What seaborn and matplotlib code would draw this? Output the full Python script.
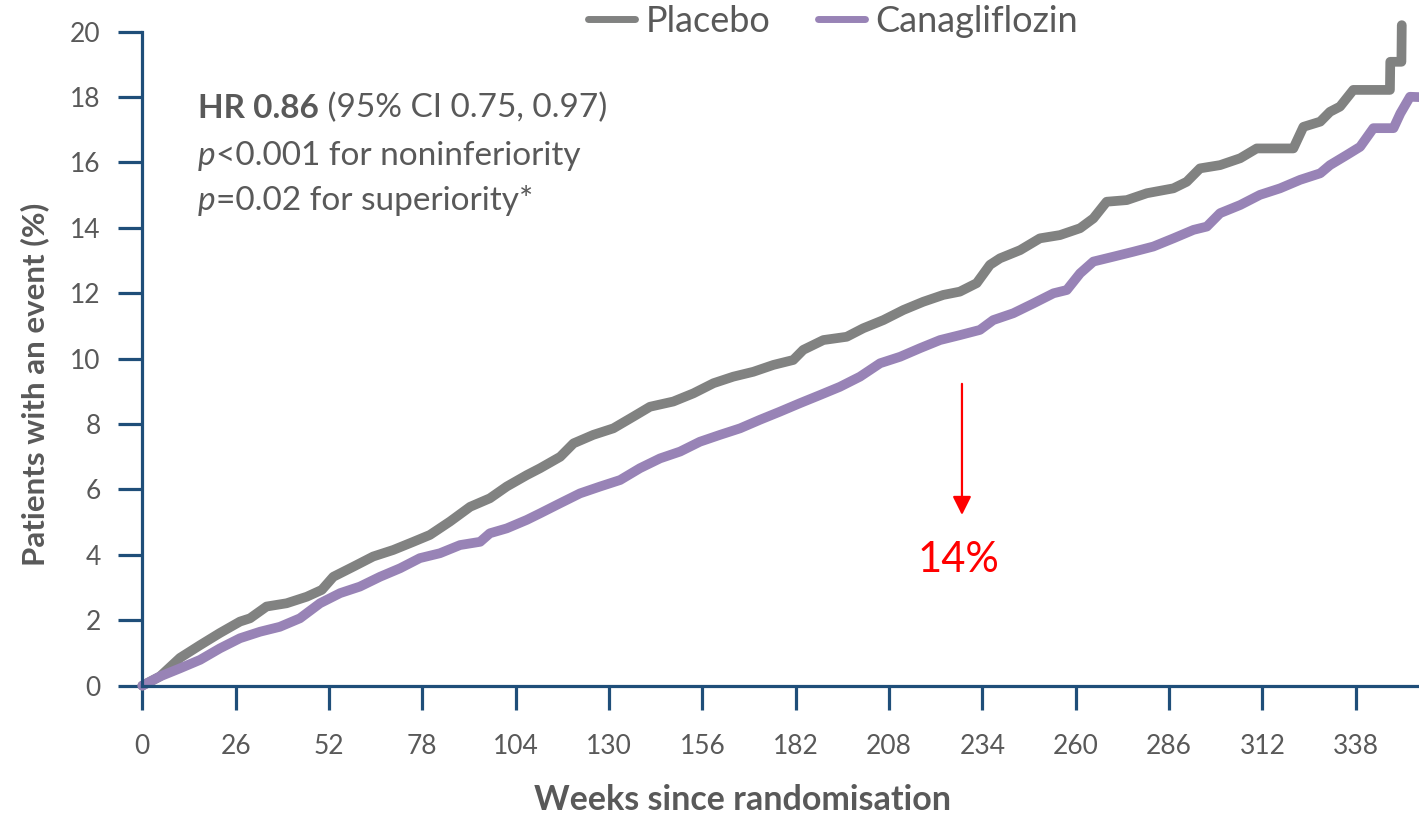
import matplotlib
matplotlib.use("Agg")
import matplotlib.pyplot as plt
from matplotlib.lines import Line2D
import seaborn as sns

# Cumulative incidence (%) by weeks since randomisation
weeks_placebo = [0, 4.9, 10.5, 16.1, 21.6, 27.2, 30.0, 34.6, 40.2, 45.8,
                 50.0, 53.2, 58.8, 64.3, 69.9, 75.5, 80.1, 85.7, 91.3, 96.8,
                 101.5, 107.1, 110.8, 116.4, 120.1, 125.6, 131.2, 136.8, 141.4, 147.9,
                 153.5, 159.1, 164.6, 170.2, 175.8, 181.3, 184.1, 189.7, 196.2, 200.8,
                 206.4, 212.0, 217.5, 223.1, 227.7, 232.4, 236.1, 238.9, 244.5, 250.0,
                 255.6, 261.2, 264.9, 268.6, 274.2, 279.8, 287.2, 290.9, 294.6, 300.2,
                 305.8, 310.4, 320.6, 323.4, 328.1, 330.8, 333.6, 337.3, 347.5, 347.6,
                 350.7, 350.8]
pct_placebo = [0, 0.28, 0.85, 1.24, 1.61, 1.96, 2.06, 2.42, 2.52, 2.72,
               2.93, 3.33, 3.64, 3.95, 4.15, 4.40, 4.61, 5.02, 5.47, 5.73,
               6.09, 6.44, 6.65, 7.00, 7.41, 7.67, 7.87, 8.23, 8.53, 8.69,
               8.94, 9.25, 9.45, 9.60, 9.81, 9.96, 10.27, 10.57, 10.67, 10.93,
               11.18, 11.49, 11.74, 11.95, 12.05, 12.31, 12.87, 13.07, 13.32, 13.68,
               13.78, 13.99, 14.29, 14.80, 14.85, 15.06, 15.21, 15.41, 15.82, 15.92,
               16.13, 16.43, 16.43, 17.09, 17.25, 17.55, 17.71, 18.22, 18.22, 19.08,
               19.08, 20.2]

weeks_cana = [0, 4.9, 10.5, 16.1, 21.6, 27.2, 32.8, 38.3, 43.9, 49.5,
              55.1, 60.6, 66.2, 71.8, 77.3, 82.9, 88.5, 94.1, 96.8, 101.5,
              107.1, 110.8, 116.4, 121.9, 127.5, 133.1, 138.6, 144.2, 149.8, 155.3,
              160.9, 166.5, 172.0, 177.6, 183.2, 188.8, 194.3, 199.9, 205.5, 211.1,
              216.6, 222.2, 227.7, 233.3, 237.0, 242.6, 248.2, 253.8, 257.5, 261.2,
              264.9, 270.5, 276.0, 281.6, 287.2, 292.8, 296.5, 300.2, 305.8, 311.3,
              316.9, 322.5, 328.1, 330.8, 335.5, 339.2, 342.9, 348.5, 350.4, 353.1,
              355.6]
pct_cana = [0, 0.28, 0.53, 0.79, 1.14, 1.45, 1.65, 1.80, 2.06, 2.52,
            2.83, 3.03, 3.33, 3.59, 3.90, 4.05, 4.30, 4.40, 4.66, 4.81,
            5.07, 5.27, 5.58, 5.88, 6.09, 6.29, 6.65, 6.95, 7.16, 7.46,
            7.67, 7.87, 8.13, 8.38, 8.64, 8.89, 9.14, 9.45, 9.86, 10.06,
            10.32, 10.57, 10.72, 10.88, 11.18, 11.39, 11.69, 12.00, 12.10, 12.61,
            12.97, 13.12, 13.27, 13.43, 13.68, 13.94, 14.04, 14.45, 14.70, 15.01,
            15.21, 15.47, 15.67, 15.92, 16.23, 16.48, 17.05, 17.05, 17.50, 18.01,
            18.0]

x_ticks = list(range(0, 339, 26))
y_ticks = list(range(0, 21, 2))
series_labels = ["Placebo", "Canagliflozin"]
reduction_label = "14%"

GRAY = "#818281"
PURPLE = "#9883b6"
AXIS_BLUE = "#1f4e79"
TEXT = "#595959"

sns.set_theme(style="white")
plt.rcParams["font.family"] = ["Lato", "DejaVu Sans"]

fig = plt.figure(figsize=(14.19, 8.15), dpi=100)
ax = fig.add_axes([0.1003, 0.1587, 0.8997, 0.8024])

line_kw = dict(linewidth=7, estimator=None, sort=False, clip_on=False,
               solid_capstyle="round", solid_joinstyle="round")
sns.lineplot(x=weeks_placebo, y=pct_placebo, ax=ax, color=GRAY, **line_kw)
sns.lineplot(x=weeks_cana, y=pct_cana, ax=ax, color=PURPLE, **line_kw)

ax.set_xlim(0, 355.6)
ax.set_ylim(0, 20)
ax.set_xticks(x_ticks)
ax.set_yticks(y_ticks)
ax.set_xlabel("")
ax.set_ylabel("")

for side in ("top", "right"):
    ax.spines[side].set_visible(False)
for side in ("left", "bottom"):
    ax.spines[side].set_color(AXIS_BLUE)
    ax.spines[side].set_linewidth(2.3)

ax.tick_params(axis="both", direction="out", length=17, width=2.3,
               color=AXIS_BLUE, labelsize=19, labelcolor=TEXT,
               bottom=True, left=True)
ax.tick_params(axis="x", pad=18)
ax.tick_params(axis="y", pad=13)

fig.text(35 / 1419, 1 - 384 / 815, "Patients with an event (%)", rotation=90,
         ha="center", va="center", fontsize=22.5, fontweight="bold", color=TEXT)
fig.text(743 / 1419, 1 - 800 / 815, "Weeks since randomisation",
         ha="center", va="center", fontsize=24.5, fontweight="bold", color=TEXT)

# Statistics block
stat_size = 24
t1 = fig.text(198 / 1419, 1 - 118 / 815, "HR 0.86", fontsize=stat_size,
              fontweight="bold", color=TEXT, va="baseline", ha="left")
ax.annotate(" (95% CI 0.75, 0.97)", xy=(1, 0), xycoords=t1, va="bottom",
            ha="left", fontsize=stat_size, color=TEXT)
t2 = fig.text(198 / 1419, 1 - 165 / 815, "p", fontsize=stat_size,
              fontstyle="italic", color=TEXT, va="baseline", ha="left")
ax.annotate("<0.001 for noninferiority", xy=(1, 0), xycoords=t2, va="bottom",
            ha="left", fontsize=stat_size, color=TEXT)
t3 = fig.text(198 / 1419, 1 - 210 / 815, "p", fontsize=stat_size,
              fontstyle="italic", color=TEXT, va="baseline", ha="left")
ax.annotate("=0.02 for superiority*", xy=(1, 0), xycoords=t3, va="bottom",
            ha="left", fontsize=stat_size, color=TEXT)

# Relative risk reduction marker
ax.annotate("", xy=(228.3, 5.22), xytext=(228.3, 9.23),
            arrowprops=dict(arrowstyle="-|>", color="red", lw=1.6,
                            mutation_scale=28, shrinkA=0, shrinkB=0))
ax.text(227.3, 3.85, reduction_label, color="red", fontsize=30,
        ha="center", va="center")

handles = [Line2D([], [], color=GRAY, lw=5), Line2D([], [], color=PURPLE, lw=5)]
fig.legend(handles, series_labels, loc="center left",
           bbox_to_anchor=(588 / 1419, 1 - 21 / 815),
           bbox_transform=fig.transFigure, ncol=2, frameon=False,
           fontsize=26, labelcolor=TEXT, handlelength=1.3, handletextpad=0.3,
           columnspacing=1.3, borderpad=0, borderaxespad=0)

fig.savefig("out.png", dpi=100)
